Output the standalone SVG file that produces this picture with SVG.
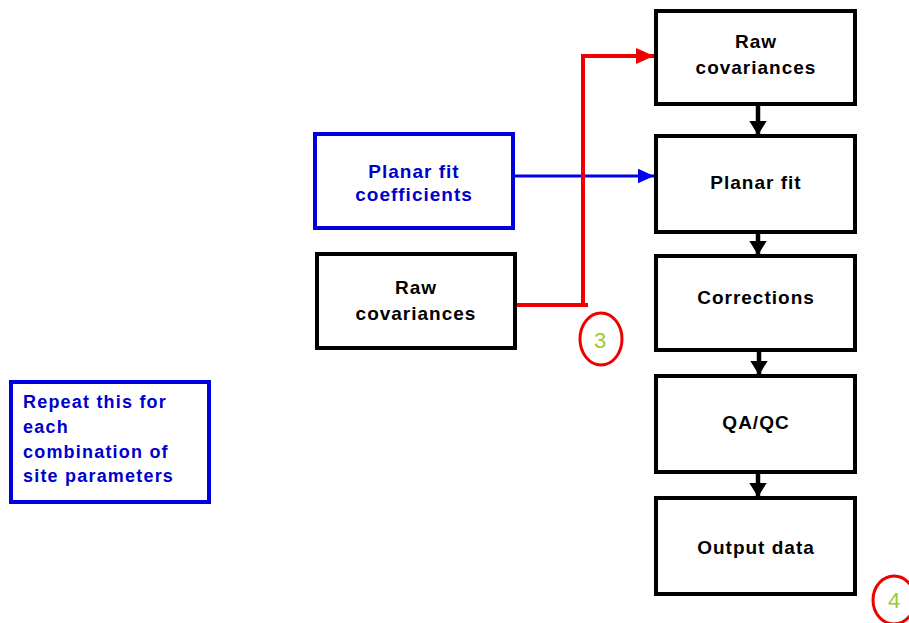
<svg xmlns="http://www.w3.org/2000/svg" width="909" height="623" viewBox="0 0 909 623">
<style>
.box{fill:#fff;stroke:#000;stroke-width:4}
.bbox{fill:#fff;stroke:#0000dd;stroke-width:4}
.t{font-family:"Liberation Sans",Arial,sans-serif;font-weight:bold;font-size:19px;letter-spacing:1px;text-anchor:middle;fill:#000}
.tb{fill:#0000cc}
.tl{font-family:"Liberation Sans",Arial,sans-serif;font-weight:bold;font-size:18px;letter-spacing:1.2px;fill:#0000cc}
.num{font-family:"Liberation Sans",Arial,sans-serif;font-size:22px;fill:#99cc33;text-anchor:middle}
.ring{fill:none;stroke:#ee0000;stroke-width:3}
</style>
<defs>
<marker id="ab" markerWidth="4" markerHeight="4" refX="3" refY="2" orient="auto" markerUnits="strokeWidth"><path d="M0,0 L3.2,2 L0,4 Z" fill="#000"/></marker>
<marker id="ar" markerWidth="5" markerHeight="4" refX="4.5" refY="2" orient="auto" markerUnits="strokeWidth"><path d="M0,0 L4.5,2 L0,4 Z" fill="#ee0000"/></marker>
<marker id="au" markerWidth="6" markerHeight="5" refX="5.5" refY="2.5" orient="auto" markerUnits="strokeWidth"><path d="M0,0 L5.5,2.5 L0,5 Z" fill="#0000ee"/></marker>
</defs>
<g id="connectors">
<path d="M758,105 V134" stroke="#000" stroke-width="4.5" fill="none" marker-end="url(#ab)"/>
<path d="M758,234 V254" stroke="#000" stroke-width="4.5" fill="none" marker-end="url(#ab)"/>
<path d="M759,352 V374" stroke="#000" stroke-width="4.5" fill="none" marker-end="url(#ab)"/>
<path d="M758,474 V496" stroke="#000" stroke-width="4.5" fill="none" marker-end="url(#ab)"/>
<path d="M515,176 H654" stroke="#0000ee" stroke-width="3" fill="none" marker-end="url(#au)"/>
<path d="M515,305 H588 M583,305 V56 H654" stroke="#ee0000" stroke-width="4" fill="none" marker-end="url(#ar)"/>
</g>
<g id="raw-cov-main">
<rect class="box" x="656" y="11" width="199" height="93"/>
<text class="t" x="756" y="48">Raw</text>
<text class="t" x="756" y="74">covariances</text>
</g>
<g id="planar-fit">
<rect class="box" x="656" y="136" width="199" height="96"/>
<text class="t" x="756" y="189">Planar fit</text>
</g>
<g id="corrections">
<rect class="box" x="656" y="256" width="199" height="94"/>
<text class="t" x="756" y="304">Corrections</text>
</g>
<g id="qaqc">
<rect class="box" x="656" y="376" width="199" height="96"/>
<text class="t" x="756" y="429">QA/QC</text>
</g>
<g id="output-data">
<rect class="box" x="656" y="498" width="199" height="96"/>
<text class="t" x="756" y="554">Output data</text>
</g>
<g id="planar-fit-coefficients">
<rect class="bbox" x="315" y="134" width="198" height="94"/>
<text class="t tb" x="414" y="178">Planar fit</text>
<text class="t tb" x="414" y="201">coefficients</text>
</g>
<g id="raw-cov-input">
<rect class="box" x="317" y="254" width="198" height="94"/>
<text class="t" x="416" y="294">Raw</text>
<text class="t" x="416" y="320">covariances</text>
</g>
<g id="repeat-note">
<rect class="bbox" x="11" y="382" width="198" height="120"/>
<text class="tl" x="23" y="408">Repeat this for</text>
<text class="tl" x="23" y="433">each</text>
<text class="tl" x="23" y="458">combination of</text>
<text class="tl" x="23" y="482">site parameters</text>
</g>
<g id="marker-3">
<ellipse class="ring" cx="601" cy="339" rx="21" ry="26"/>
<text class="num" x="600" y="348">3</text>
</g>
<g id="marker-4">
<ellipse class="ring" cx="894" cy="600" rx="21" ry="24"/>
<text class="num" x="894" y="608">4</text>
</g>
</svg>
